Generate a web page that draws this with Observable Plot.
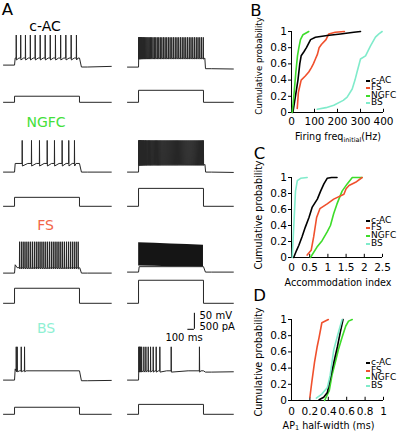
<!DOCTYPE html>
<html><head><meta charset="utf-8">
<script src="https://cdn.jsdelivr.net/npm/d3@7"></script>
<script src="https://cdn.jsdelivr.net/npm/@observablehq/plot@0.6"></script>
<style>
html,body{margin:0;padding:0;background:#fff;}
#root{position:relative;width:402px;height:433px;overflow:hidden;font-family:"DejaVu Sans",Verdana,sans-serif;color:#000;}
.t{position:absolute;white-space:nowrap;line-height:1;}
</style></head><body><div id="root"></div>
<script>
// ---------- DATA ----------
const cellTypes = ["c-AC", "NGFC", "FS", "BS"];
const typeColors = ["#000000", "#3ddc2a", "#f0502d", "#80ebcb"];
const labelColors = ["#000000", "#44e03a", "#f26548", "#8ff0d3"];
const legendOrder = ["c-AC", "FS", "NGFC", "BS"];

// Panel A spike times (ms after step onset; step lasts 0–1000 ms)
const spikesCacLeft = [26, 95, 168, 243, 318, 395, 472, 550, 630, 710, 790, 872, 953];
const spikesCacRight = [3, 7, 11, 16, 21, 27, 33, 40, 48, 57, 67, 78, 90, 103, 117, 132, 148, 165, 183, 202, 222, 243, 265, 288, 311, 335, 359, 384, 409, 434, 460, 486, 512, 538, 565, 592, 619, 646, 673, 700, 727, 754, 781, 808, 835, 862, 889, 916, 943, 970, 997];
const spikesNgfcLeft = [118, 261, 384, 503, 615, 733, 835, 923];
const spikesNgfcRight = [3, 7, 12, 17, 23, 29, 36, 43, 51, 59, 68, 77, 87, 97, 108, 119, 131, 143, 155, 168, 181, 194, 207, 220, 234, 248, 262, 276, 290, 304, 318, 332, 346, 361, 376, 391, 406, 421, 436, 451, 466, 481, 496, 511, 526, 541, 556, 571, 586, 601, 617, 633, 649, 665, 681, 697, 713, 729, 745, 761, 777, 793, 809, 825, 841, 857, 873, 889, 905, 921, 937, 953, 969, 985, 999];
const spikesFsLeft = [77, 105, 133, 161, 190, 219, 248, 277, 306, 335, 364, 393, 422, 451, 480, 509, 538, 567, 596, 625, 654, 683, 712, 741, 770, 800, 830, 860, 890, 920, 950, 980];
const spikesFsRight = [];
const spikesBsLeft = [26, 41, 103, 154];
const spikesBsRight = [4, 12, 22, 34, 48, 82, 113, 149, 185, 226, 272, 328, 503, 938];
// FS right: dense firing envelope (mV)
const fsEnvT = [2, 250, 500, 750, 1000];
const fsEnvTop = [22, 20, 18, 16, 14];
const fsEnvBottom = [-51, -52, -53, -53, -54];

// membrane levels (mV), per cell type [c-AC, NGFC, FS, BS]
const restMv = [-70, -70, -70, -70];
const plateauLeft = [-48, -43, -53, -41];
const humpLeft = [0, 0, 9, 6];
const peakLeft = [24, 29, 28, 34];
const ahpLeft = [6, 8, 4, 3];
const postLeft = [-76, -70, -70, -72];
const endLeft = [-74, -70, -70, -71];
const plateauRight = [-42, -46, -53, -41];
const humpRight = [0, 0, 0, 0];
const peakRight = [23, 29, 21, 34];
const ahpRight = [3, 3, 0, 4];
const postRight = [-75, -70, -70, -45];
const endRight = [-76, -71, -70, -44];
// injected current (pA)
const currentLeft = [190, 280, 470, 220];
const currentRight = [375, 560, 720, 310];
const scaleBarMs = 100, scaleBarMv = 50, scaleBarPa = 500;

// Panel B: initial firing frequency (Hz) cumulative distributions
const bCacX = [6, 17, 28, 36, 42, 54, 65, 83, 104, 155, 213, 271, 300];
const bCacY = [0, 0.2, 0.4, 0.6, 0.7, 0.75, 0.8, 0.9, 0.93, 0.95, 0.97, 0.99, 1.0];
const bFsX = [25, 30, 42, 60, 75, 86, 95, 104, 113, 120, 130, 150, 162, 190, 230];
const bFsY = [0.05, 0.25, 0.4, 0.45, 0.5, 0.55, 0.6, 0.66, 0.72, 0.8, 0.84, 0.9, 0.97, 0.99, 1.0];
const bNgfcX = [3, 10, 19, 26, 32, 39, 50, 75];
const bNgfcY = [0, 0.2, 0.5, 0.7, 0.8, 0.9, 0.96, 1.0];
const bBsX = [112, 150, 184, 225, 242, 264, 276, 285, 300, 322, 343, 365, 380, 394];
const bBsY = [0.04, 0.06, 0.09, 0.15, 0.19, 0.29, 0.4, 0.5, 0.66, 0.7, 0.82, 0.93, 0.97, 1.0];
// Panel C: accommodation index
const cCacX = [0.06, 0.14, 0.2, 0.29, 0.38, 0.48, 0.57, 0.71, 0.8, 0.89, 0.98, 1.1, 1.25];
const cCacY = [0, 0.09, 0.15, 0.26, 0.38, 0.5, 0.63, 0.73, 0.83, 0.92, 0.99, 1.0, 1.0];
const cFsX = [0.43, 0.54, 0.61, 0.69, 0.78, 0.98, 1.16, 1.44, 1.5, 1.58, 1.76, 1.94];
const cFsY = [0.03, 0.09, 0.26, 0.5, 0.61, 0.67, 0.73, 0.79, 0.86, 0.9, 0.94, 1.0];
const cNgfcX = [0.52, 0.7, 0.84, 0.98, 1.07, 1.16, 1.25, 1.39, 1.53, 1.67, 1.94];
const cNgfcY = [0, 0.13, 0.21, 0.32, 0.4, 0.55, 0.67, 0.83, 0.92, 1.0, 1.0];
const cBsX = [0.02, 0.11, 0.16, 0.25, 0.43];
const cBsY = [0, 0.83, 0.96, 0.99, 1.0];
// Panel D: AP1 half-width (ms)
const dCacX = [0.3, 0.35, 0.39, 0.42, 0.46, 0.5, 0.53, 0.56];
const dCacY = [0.01, 0.04, 0.1, 0.27, 0.47, 0.67, 0.84, 1.0];
const dFsX = [0.2, 0.22, 0.25, 0.28, 0.3, 0.33, 0.4];
const dFsY = [0.04, 0.22, 0.47, 0.67, 0.78, 0.96, 1.0];
const dNgfcX = [0.36, 0.41, 0.44, 0.48, 0.51, 0.55, 0.59, 0.62, 0.66];
const dNgfcY = [0, 0.12, 0.31, 0.49, 0.63, 0.78, 0.92, 0.98, 1.0];
const dBsX = [0.27, 0.33, 0.39, 0.42, 0.44, 0.46, 0.5, 0.55];
const dBsY = [0.03, 0.08, 0.16, 0.31, 0.47, 0.63, 0.8, 1.0];

const probTicks = [0, 0.2, 0.4, 0.6, 0.8, 1];
const bTicks = [0, 100, 200, 300, 400];
const cTicks = [0, 0.5, 1, 1.5, 2, 2.5];
const dTicks = [0, 0.2, 0.4, 0.6, 0.8, 1];

// ---------- LAYOUT ----------
const root = document.getElementById("root");
const FONT = "'DejaVu Sans', Verdana, sans-serif";
const baseStyle = {background: "transparent", fontFamily: FONT, fontSize: "10.5px", color: "#000", overflow: "visible"};
function place(svg, left, top) {
  svg.style.position = "absolute";
  svg.style.left = left + "px";
  svg.style.top = top + "px";
  svg.style.maxWidth = "none";
  root.appendChild(svg);
}
function addText(html, x, y, o = {}) {
  const d = document.createElement("div");
  d.className = "t";
  d.innerHTML = html;
  d.style.left = x + "px";
  d.style.top = y + "px";
  d.style.fontSize = (o.size || 10) + "px";
  if (o.lh) d.style.lineHeight = o.lh;
  d.style.color = o.color || "#000";
  const tx = o.anchor === "left" ? "0" : "-50%";
  d.style.transform = `translate(${tx},-50%)` + (o.rotate ? ` rotate(${o.rotate}deg)` : "");
  root.appendChild(d);
}

// time/voltage/current scales for panel A (shared by every trace)
const T0 = -170, TW = 109, MS_PER_PX = 15.4;
const tDomain = [T0, T0 + TW * MS_PER_PX];
const vDomain = [-90, 41.25], vHeight = 42;   // 3.125 mV per px
const iDomain = [-100, 900], iHeight = 32;    // 31.25 pA per px
const colLeft = [2.96, 127.26];
const vBase = [[65, 66.7], [171.7, 171.7], [272.3, 272], [379.3, 379.3]];
const iBase = [102, 206, 303, 414];
const tEnd = [1490, 1460];

function voltagePoints(spikes, rest, plateau, hump, peak, ahp, post, end, tStop) {
  const pts = [{t: T0, v: rest}, {t: 0, v: rest}];
  const first = spikes.length ? spikes[0] : 1000;
  pts.push({t: Math.min(10, first - 1), v: plateau + hump});
  if (hump && first > 40) pts.push({t: 40, v: plateau});
  spikes.forEach((s, i) => {
    const next = i + 1 < spikes.length ? spikes[i + 1] : s + 40;
    const prevT = pts[pts.length - 1].t;
    const isi = next - s;
    if (s - 2 > prevT + 1) pts.push({t: s - 2, v: plateau});
    pts.push({t: s, v: peak});
    pts.push({t: s + Math.min(3, isi * 0.4), v: plateau - ahp});
    if (isi > 15) pts.push({t: s + isi * 0.6, v: plateau});
  });
  let last = pts[pts.length - 1].t;
  if (last < 1000) pts.push({t: 1000, v: plateau});
  last = pts[pts.length - 1].t;
  pts.push({t: Math.max(1030, last + 10), v: post});
  if (last + 10 < 1120) pts.push({t: 1120, v: post});
  pts.push({t: tStop, v: end});
  return pts;
}

const spikeSets = [[spikesCacLeft, spikesCacRight], [spikesNgfcLeft, spikesNgfcRight], [spikesFsLeft, spikesFsRight], [spikesBsLeft, spikesBsRight]];
const params = [
  {plateau: plateauLeft, hump: humpLeft, peak: peakLeft, ahp: ahpLeft, post: postLeft, end: endLeft, cur: currentLeft},
  {plateau: plateauRight, hump: humpRight, peak: peakRight, ahp: ahpRight, post: postRight, end: endRight, cur: currentRight}
];

for (let k = 0; k < 4; k++) {
  for (let c = 0; c < 2; c++) {
    const p = params[c];
    const pts = voltagePoints(spikeSets[k][c], restMv[k], p.plateau[k], p.hump[k], p.peak[k], p.ahp[k], p.post[k], p.end[k], tEnd[c]);
    const marks = [];
    if (k === 2 && c === 1) {
      const env = fsEnvT.map((t, j) => ({t, hi: fsEnvTop[j], lo: fsEnvBottom[j]}));
      marks.push(Plot.areaY(env, {x: "t", y1: "lo", y2: "hi", fill: "#151515"}));
    }
    marks.push(Plot.line(pts, {x: "t", y: "v", stroke: "#262626", strokeWidth: 1}));
    const vp = Plot.plot({
      width: TW, height: vHeight, margin: 0, style: baseStyle,
      x: {domain: tDomain, axis: null}, y: {domain: vDomain, axis: null},
      marks
    });
    place(vp, colLeft[c], vBase[k][c] - (vDomain[1] - restMv[k]) / 3.125);

    const I = p.cur[k];
    const ipts = [{t: T0, i: 0}, {t: 0, i: 0}, {t: 0, i: I}, {t: 1000, i: I}, {t: 1000, i: 0}, {t: tEnd[c], i: 0}];
    const ip = Plot.plot({
      width: TW, height: iHeight, margin: 0, style: baseStyle,
      x: {domain: tDomain, axis: null}, y: {domain: iDomain, axis: null},
      marks: [Plot.line(ipts, {x: "t", y: "i", stroke: "#262626", strokeWidth: 1})]
    });
    place(ip, colLeft[c], iBase[k] - iDomain[1] / 31.25);
  }
}

// scale bar (same time / voltage scales as traces)
const barT = 860, barV = -80;
const sb = Plot.plot({
  width: TW, height: vHeight, margin: 0, style: baseStyle,
  x: {domain: tDomain, axis: null}, y: {domain: vDomain, axis: null},
  marks: [
    Plot.ruleX([barT], {y1: barV, y2: barV + scaleBarMv, stroke: "#000", strokeWidth: 1}),
    Plot.ruleY([barV], {x1: barT - scaleBarMs, x2: barT, stroke: "#000", strokeWidth: 1})
  ]
});
place(sb, colLeft[1], 329 - (vDomain[1] - barV) / 3.125);
addText(`${scaleBarMv} mV`, 199.5, 315.5, {anchor: "left", size: 10});
addText(`${scaleBarPa} pA`, 199.5, 326.5, {anchor: "left", size: 10});
addText(`${scaleBarMs} ms`, 184, 338, {size: 10});

// panel A labels
const labelPos = [[45, 25.5], [46, 121.5], [45.5, 225], [46, 327.5]];
cellTypes.forEach((name, k) => addText(name, labelPos[k][0], labelPos[k][1], {size: 14, color: labelColors[k]}));

// panel letters
addText("A", 7.5, 9.5, {size: 16.5});
addText("B", 256, 11, {size: 16.5});
addText("C", 259.5, 153.5, {size: 16.5});
addText("D", 259.5, 295.5, {size: 16.5});

// ---------- CDF PANELS ----------
function series(xs, ys) { return xs.map((x, i) => ({x, y: ys[i]})); }
function cdfPlot(cfg) {
  const marks = [
    Plot.axisY({ticks: probTicks, tickSize: 3, tickPadding: 1.5, tickFormat: d => String(d), label: null}),
    Plot.axisX({ticks: cfg.ticks, tickSize: 0, tickPadding: cfg.pad, tickFormat: d => String(d), label: null}),
    Plot.ruleX(cfg.ticks, {y1: 0, y2: 0.04, stroke: "#000"}),
    Plot.ruleX([0], {stroke: "#000"}),
    Plot.ruleY([0], {stroke: "#000"})
  ];
  cfg.lines.forEach(([data, k]) => marks.push(Plot.line(data, {x: "x", y: "y", stroke: typeColors[k], strokeWidth: 1.6})));
  const svg = Plot.plot({
    width: cfg.width, height: cfg.height,
    marginLeft: cfg.mL, marginRight: cfg.mR, marginTop: cfg.mT, marginBottom: cfg.mB,
    style: baseStyle,
    x: {domain: cfg.domain}, y: {domain: [0, 1]},
    marks
  });
  place(svg, cfg.left, cfg.top);
}

cdfPlot({left: 250, top: 0, width: 152, height: 145, mL: 41, mR: 19, mT: 31, mB: 33, domain: [0, 400], ticks: bTicks, pad: 5,
  lines: [[series(bBsX, bBsY), 3], [series(bFsX, bFsY), 2], [series(bCacX, bCacY), 0], [series(bNgfcX, bNgfcY), 1]]});
cdfPlot({left: 250, top: 140, width: 152, height: 145, mL: 41, mR: 20, mT: 37, mB: 28, domain: [0, 2.5], ticks: cTicks, pad: 6,
  lines: [[series(cBsX, cBsY), 3], [series(cNgfcX, cNgfcY), 1], [series(cFsX, cFsY), 2], [series(cCacX, cCacY), 0]]});
cdfPlot({left: 250, top: 285, width: 152, height: 148, mL: 41, mR: 19, mT: 34, mB: 33, domain: [0, 1], ticks: dTicks, pad: 7,
  lines: [[series(dFsX, dFsY), 2], [series(dNgfcX, dNgfcY), 1], [series(dCacX, dCacY), 0], [series(dBsX, dBsY), 3]]});

// axis titles
addText("Cumulative probability", 259, 66, {size: 8.6, rotate: -90});
addText("Cumulative probability", 259, 215, {size: 9.6, rotate: -90});
addText("Cumulative probability", 259, 362, {size: 9.6, rotate: -90});
addText('Firing freq<span style="font-size:6.5px;position:relative;top:2px">initial</span>(Hz)', 338, 137, {size: 9.6});
addText("Accommodation index", 338, 283, {size: 9.6});
addText('AP<span style="font-size:6.5px;position:relative;top:1.5px">1</span> half-width (ms)', 328.5, 425.5, {size: 9.6});

// legends
const legendY = [[81, 88.4, 95.8, 103.3], [220.7, 228.3, 236, 243.7], [363.3, 370.7, 378, 386]];
legendY.forEach(ys => {
  legendOrder.forEach((name, j) => {
    const k = cellTypes.indexOf(name);
    const dash = document.createElement("div");
    dash.style.cssText = `position:absolute;left:366px;top:${ys[j] - 1}px;width:4px;height:2px;background:${typeColors[k]}`;
    root.appendChild(dash);
    addText(name, 371, ys[j], {size: 9, anchor: "left", lh: "0.8"});
  });
});
</script></body></html>
